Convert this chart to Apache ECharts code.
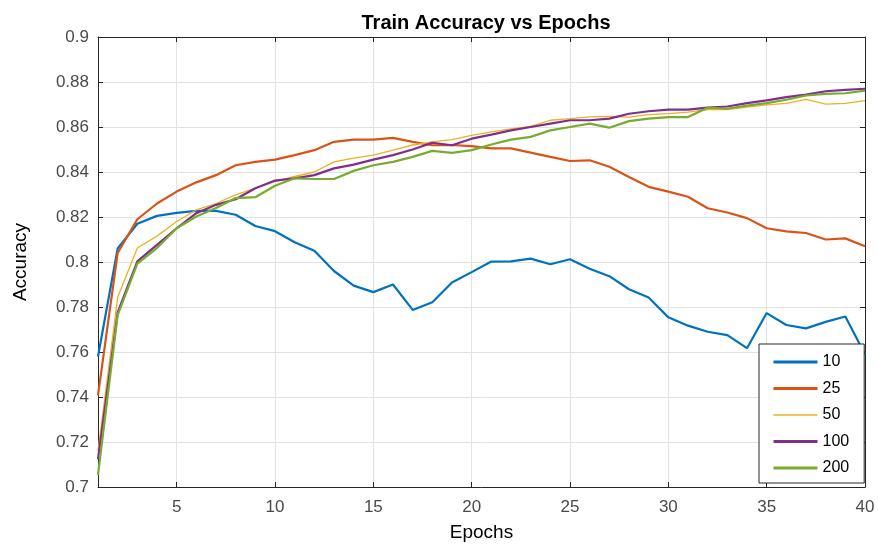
<!DOCTYPE html>
<html>
<head>
<meta charset="utf-8">
<script src="https://cdn.jsdelivr.net/npm/echarts@6/dist/echarts.min.js"></script>
<style>
html,body{margin:0;padding:0;background:#fff;}
#chart{width:878px;height:549px;}
</style>
</head>
<body>
<div id="chart"></div>
<script>
const epochs = [1,2,3,4,5,6,7,8,9,10,11,12,13,14,15,16,17,18,19,20,21,22,23,24,25,26,27,28,29,30,31,32,33,34,35,36,37,38,39,40];
const seriesNames = ['10','25','50','100','200'];
const xTicks = [5,10,15,20,25,30,35,40];

const acc10 = [0.758,0.806,0.817,0.8205,0.8218,0.8227,0.8227,0.821,0.816,0.8137,0.8088,0.805,0.796,0.7895,0.7866,0.790,0.7787,0.7821,0.7909,0.7955,0.8002,0.8003,0.8015,0.799,0.8012,0.797,0.7937,0.7879,0.7842,0.7754,0.7717,0.769,0.7675,0.7617,0.7773,0.772,0.7705,0.7734,0.7758,0.759];
const acc25 = [0.7407,0.804,0.819,0.826,0.8313,0.8354,0.8386,0.843,0.8445,0.8455,0.8475,0.8497,0.8534,0.8544,0.8544,0.8552,0.8534,0.8519,0.852,0.8515,0.8505,0.8505,0.8486,0.8467,0.8449,0.8452,0.8423,0.8378,0.8334,0.8313,0.829,0.8239,0.822,0.8195,0.815,0.8136,0.8129,0.810,0.8105,0.807];
const acc50 = [0.716,0.7843,0.8062,0.8115,0.818,0.8232,0.826,0.8298,0.8328,0.8357,0.838,0.840,0.8445,0.8462,0.8475,0.8497,0.852,0.8534,0.8544,0.8563,0.8578,0.8592,0.8603,0.863,0.8637,0.8645,0.8647,0.8644,0.8655,0.8659,0.8666,0.8677,0.8677,0.8688,0.8698,0.8705,0.8723,0.8702,0.8705,0.8717];
const acc100 = [0.7124,0.7776,0.8003,0.8076,0.815,0.8217,0.8254,0.8279,0.8328,0.8362,0.8372,0.8386,0.8416,0.8433,0.8455,0.8475,0.850,0.853,0.8519,0.8548,0.8566,0.8585,0.860,0.8615,0.863,0.863,0.8637,0.8659,0.867,0.8677,0.8677,0.8686,0.8691,0.8706,0.8718,0.8733,0.8744,0.8759,0.8765,0.877];
const acc200 = [0.7054,0.7764,0.7993,0.8062,0.815,0.8202,0.824,0.8284,0.8288,0.8339,0.8372,0.8369,0.8369,0.8405,0.843,0.8445,0.8467,0.8494,0.8485,0.8497,0.8522,0.8544,0.8556,0.8585,0.860,0.8615,0.8597,0.8626,0.8637,0.8644,0.8644,0.8686,0.8681,0.8695,0.8706,0.8721,0.874,0.8747,0.875,0.8762];

const allValues = [acc10, acc25, acc50, acc100, acc200];
const colors = ['#0072BD','#D95319','#EDB120','#7E2F8E','#77AC30'];
const widths = [2.2,2.2,1.3,2.2,2.2];
const legendWidths = [3,3,1.6,3,3];

const FONT = 'Liberation Sans, Arial, Helvetica, sans-serif';
const AXC = '#262626';

const chart = echarts.init(document.getElementById('chart'), null, {renderer:'canvas'});

const series = seriesNames.map((name, i) => ({
  name: name,
  type: 'line',
  xAxisIndex: 0,
  yAxisIndex: 0,
  symbol: 'none',
  showSymbol: false,
  smooth: false,
  data: epochs.map((e, k) => [e, allValues[i][k]]),
  lineStyle: { color: colors[i], width: widths[i] },
  itemStyle: { color: colors[i] },
  emphasis: { disabled: true },
  z: 2 + i
}));

chart.setOption({
  animation: false,
  backgroundColor: '#ffffff',
  title: {
    text: 'Train Accuracy vs Epochs',
    left: 481,
    textAlign: 'center',
    top: 8,
    textStyle: { fontFamily: FONT, fontSize: 20, fontWeight: 'bold', color: '#000' }
  },
  grid: { left: 98, right: 13, top: 37, bottom: 62, containLabel: false },
  legend: {
    orient: 'vertical',
    left: 759,
    top: 344,
    itemWidth: 44,
    itemHeight: 14,
    itemGap: 10.5,
    padding: [10, 15, 7, 13],
    backgroundColor: '#ffffff',
    borderColor: AXC,
    borderWidth: 1,
    borderRadius: 0,
    itemStyle: { opacity: 0 },
    textStyle: { fontFamily: FONT, fontSize: 16, color: '#000' },
    data: seriesNames.map((n, i) => ({ name: n, lineStyle: { width: legendWidths[i], color: colors[i] } })),
    z: 20
  },
  xAxis: [
    {
      type: 'value',
      position: 'bottom',
      min: 1,
      max: 40,
      name: 'Epochs',
      nameLocation: 'middle',
      nameGap: 36,
      nameTextStyle: { fontFamily: FONT, fontSize: 19, color: '#000' },
      axisLine: { show: true, onZero: false, lineStyle: { color: AXC, width: 1 } },
      axisTick: { show: true, inside: true, length: 5, customValues: xTicks, lineStyle: { color: AXC } },
      axisLabel: { show: true, customValues: xTicks, margin: 12, fontFamily: FONT, fontSize: 17, color: '#4a4a4a' },
      splitLine: { show: true, lineStyle: { color: '#e2e2e2', width: 1 } }
    },
    {
      type: 'value',
      position: 'top',
      min: 1,
      max: 40,
      axisLine: { show: true, onZero: false, lineStyle: { color: AXC, width: 1 } },
      axisTick: { show: true, inside: true, length: 5, customValues: xTicks, lineStyle: { color: AXC } },
      axisLabel: { show: false },
      splitLine: { show: false }
    }
  ],
  yAxis: [
    {
      type: 'value',
      position: 'left',
      min: 0.7,
      max: 0.9,
      interval: 0.02,
      name: 'Accuracy',
      nameLocation: 'middle',
      nameGap: 68,
      nameRotate: 90,
      nameTextStyle: { fontFamily: FONT, fontSize: 19, color: '#000' },
      axisLine: { show: true, onZero: false, lineStyle: { color: AXC, width: 1 } },
      axisTick: { show: true, inside: true, length: 5, lineStyle: { color: AXC } },
      axisLabel: { show: true, margin: 9, fontFamily: FONT, fontSize: 17, color: '#4a4a4a' },
      splitLine: { show: true, lineStyle: { color: '#e2e2e2', width: 1 } }
    },
    {
      type: 'value',
      position: 'right',
      min: 0.7,
      max: 0.9,
      interval: 0.02,
      axisLine: { show: true, onZero: false, lineStyle: { color: AXC, width: 1 } },
      axisTick: { show: true, inside: true, length: 5, lineStyle: { color: AXC } },
      axisLabel: { show: false },
      splitLine: { show: false }
    }
  ],
  series: series
});
</script>
</body>
</html>
